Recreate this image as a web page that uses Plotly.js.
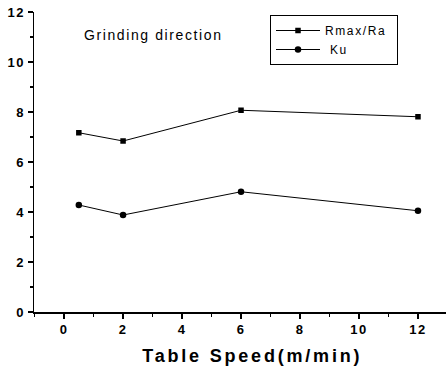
<!DOCTYPE html>
<html>
<head>
<meta charset="utf-8">
<script src="https://cdn.plot.ly/plotly-3.0.1.min.js"></script>
<style>
html,body{margin:0;padding:0;background:#fff;}
#chart{width:446px;height:367px;}
.xtick text, .ytick text{letter-spacing:1.5px;}
text.annotation-text{letter-spacing:1.6px;}
g.annotation[data-index="1"] text{letter-spacing:2.8px;}
text.legendtext{letter-spacing:1.6px;}
</style>
</head>
<body>
<div id="chart"></div>
<script>
const tableSpeed = [0.5, 2, 6, 12];
const rmaxRa = [7.17, 6.84, 8.07, 7.81];
const ku = [4.28, 3.88, 4.81, 4.05];
const xTicks = [0, 2, 4, 6, 8, 10, 12];
const yTicks = [0, 2, 4, 6, 8, 10, 12];

const traces = [
  {x: tableSpeed, y: rmaxRa, name: 'Rmax/Ra&nbsp;', type: 'scatter', mode: 'lines+markers',
   line: {color: '#000', width: 1}, marker: {symbol: 'square', size: 5.5, color: '#000'}},
  {x: tableSpeed, y: ku, name: '&nbsp;Ku', type: 'scatter', mode: 'lines+markers',
   line: {color: '#000', width: 1}, marker: {symbol: 'circle', size: 6.5, color: '#000'}}
];

const FONT = 'Liberation Sans, Arial, sans-serif';
const layout = {
  width: 446, height: 367,
  margin: {l: 34, r: 0, t: 12, b: 55},
  paper_bgcolor: '#fff', plot_bgcolor: '#fff',
  font: {family: FONT, color: '#000'},
  showlegend: true,
  legend: {x: (270 - 34) / 412, y: (312 - 15) / 300, xanchor: 'left', yanchor: 'top',
    bordercolor: '#000', borderwidth: 1, bgcolor: '#fff',
    font: {size: 12, family: FONT},
    tracegroupgap: 0, itemwidth: 44},
  xaxis: {range: [-1.02, 12.95], tickvals: xTicks, ticktext: xTicks.map(String),
    showgrid: false, zeroline: false, showline: true, linecolor: '#000', linewidth: 1.5,
    ticks: 'outside', ticklen: 5, tickcolor: '#000', tickwidth: 1.2,
    minor: {dtick: 1, tick0: 1, ticks: 'outside', ticklen: 3, tickcolor: '#000'},
    tickfont: {size: 13, family: FONT, weight: 'bold'}},
  yaxis: {range: [0, 12], tickvals: yTicks, ticktext: yTicks.map(String),
    showgrid: false, zeroline: false, showline: true, linecolor: '#000', linewidth: 1.5,
    ticks: 'outside', ticklen: 5, tickcolor: '#000', tickwidth: 1.2,
    minor: {dtick: 1, tick0: 1, ticks: 'outside', ticklen: 3, tickcolor: '#000'},
    tickfont: {size: 13, family: FONT, weight: 'bold'}},
  annotations: [
    {text: 'Grinding direction', xref: 'paper', yref: 'paper',
     x: (82 - 34) / 412, y: (312 - 35) / 300, xanchor: 'left', yanchor: 'middle',
     showarrow: false, font: {size: 14, family: FONT}},
    {text: '<b>Table Speed(m/min)</b>', xref: 'paper', yref: 'paper',
     x: (252 - 34) / 412, y: (312 - 356) / 300, xanchor: 'center', yanchor: 'middle',
     showarrow: false, font: {size: 18, family: FONT}}
  ]
};

Plotly.newPlot('chart', traces, layout, {displayModeBar: false, staticPlot: true});
</script>
</body>
</html>
